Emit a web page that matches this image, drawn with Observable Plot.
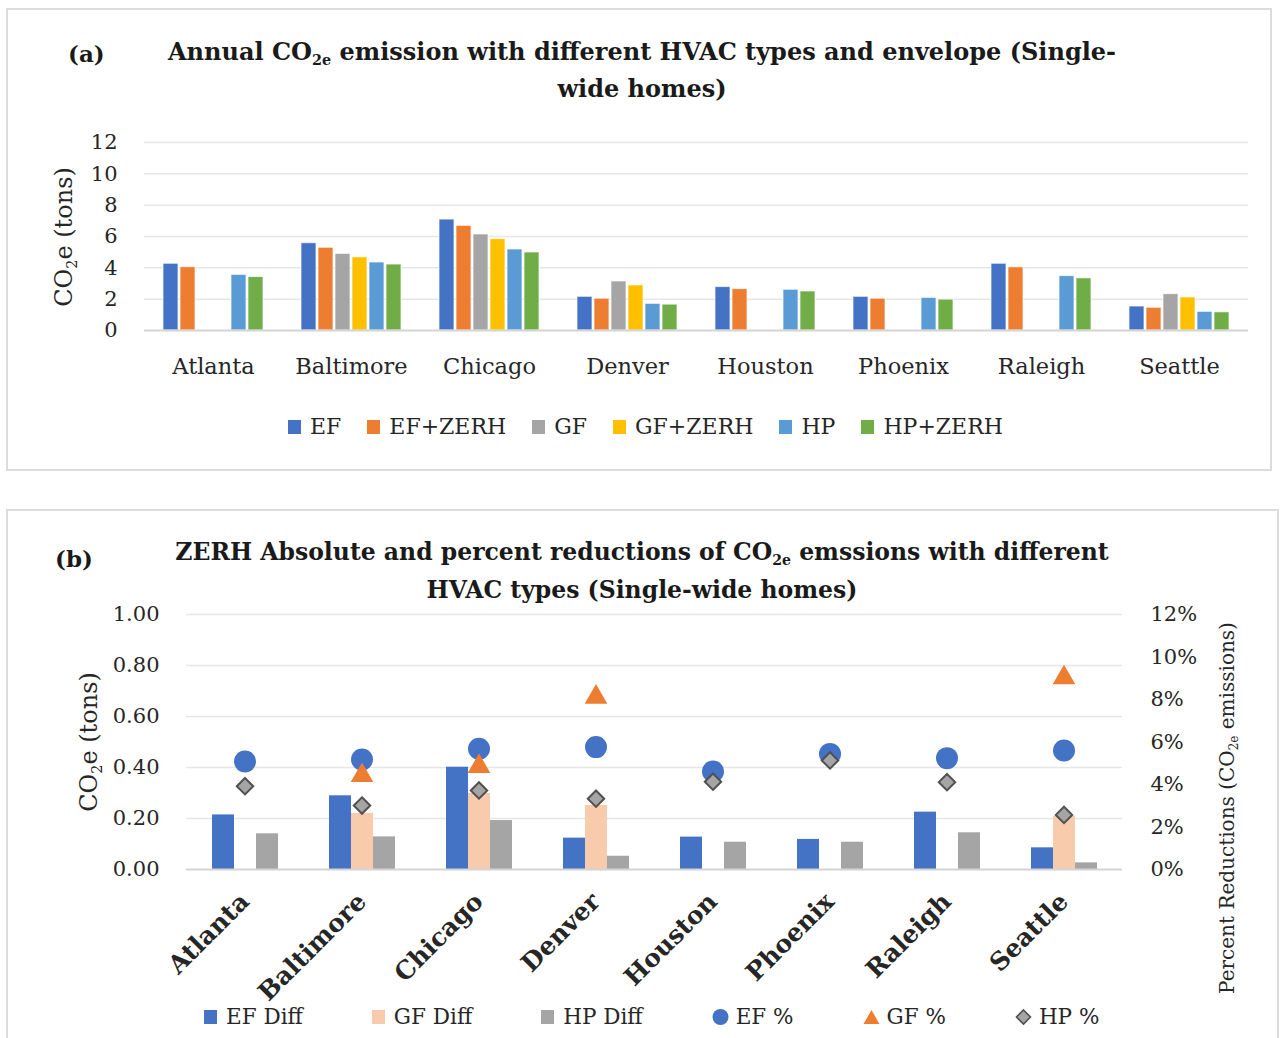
<!DOCTYPE html>
<html>
<head>
<meta charset="utf-8">
<script src="https://cdn.jsdelivr.net/npm/d3@7"></script>
<script src="https://cdn.jsdelivr.net/npm/@observablehq/plot@0.6"></script>
<style>
  html, body { margin: 0; padding: 0; background: #fff; }
  #root { position: relative; width: 1280px; height: 1038px; overflow: hidden; font-family: "DejaVu Serif", serif; color: #262626; }
  .box { position: absolute; border: 2px solid #DCDCDC; box-sizing: border-box; }
  .title { position: absolute; left: 92px; width: 1100px; text-align: center; font-weight: bold; font-size: 24px; letter-spacing: 0px; color: #1a1a1a; }
  .tag { position: absolute; font-weight: bold; font-size: 23px; color: #1a1a1a; transform: translateY(-50%); }
  .rot { position: absolute; white-space: nowrap; transform: translate(-50%, -50%) rotate(-90deg); }
  .legend { position: absolute; display: flex; align-items: center; font-size: 22px; white-space: nowrap; }
  .legend .item { display: flex; align-items: center; }
  .legend .sw { display: inline-block; width: 13px; height: 14px; margin-right: 9px; }
  sub { font-size: 0.6em; vertical-align: -0.35em; line-height: 0; }
  .plot { position: absolute; left: 0; }
</style>
</head>
<body>
<div id="root"></div>
<script>
// ---------- data ----------
const cities = ["Atlanta", "Baltimore", "Chicago", "Denver", "Houston", "Phoenix", "Raleigh", "Seattle"];
const hvacTypes = ["EF", "EF+ZERH", "GF", "GF+ZERH", "HP", "HP+ZERH"];
const hvacColors = ["#4472C4", "#ED7D31", "#A5A5A5", "#FFC000", "#5B9BD5", "#70AD47"];
const ef      = [4.26, 5.57, 7.08, 2.15, 2.77, 2.15, 4.26, 1.53];
const efZerh  = [4.04, 5.28, 6.68, 2.03, 2.64, 2.03, 4.03, 1.45];
const gf      = [null, 4.89, 6.13, 3.13, null, null, null, 2.32];
const gfZerh  = [null, 4.67, 5.83, 2.88, null, null, null, 2.11];
const hp      = [3.55, 4.34, 5.17, 1.70, 2.60, 2.08, 3.47, 1.19];
const hpZerh  = [3.41, 4.21, 4.98, 1.65, 2.49, 1.97, 3.33, 1.16];
const ticksA  = [0, 2, 4, 6, 8, 10, 12];

const diffTypes = ["EF Diff", "GF Diff", "HP Diff"];
const diffColors = ["#4472C4", "#F8CBAD", "#A5A5A5"];
const efDiff  = [0.214, 0.289, 0.401, 0.123, 0.127, 0.118, 0.225, 0.085];
const gfDiff  = [null, 0.220, 0.298, 0.251, null, null, null, 0.209];
const hpDiff  = [0.140, 0.128, 0.192, 0.052, 0.107, 0.107, 0.144, 0.026];
const efPct   = [5.08, 5.18, 5.68, 5.76, 4.61, 5.44, 5.24, 5.60];
const gfPct   = [null, 4.42, 4.85, 8.11, null, null, null, 9.02];
const hpPct   = [3.92, 3.01, 3.72, 3.33, 4.13, 5.13, 4.11, 2.57];
const ticksB  = [0, 0.2, 0.4, 0.6, 0.8, 1.0];
const ticksPct = [0, 2, 4, 6, 8, 10, 12];

// ---------- tables ----------
const seriesA = [ef, efZerh, gf, gfZerh, hp, hpZerh];
const tableA = cities.flatMap((c, i) => hvacTypes.map((t, j) => ({city: c, type: t, value: seriesA[j][i]})))
  .filter(d => d.value != null);
const seriesB = [efDiff, gfDiff, hpDiff];
const tableB = cities.flatMap((c, i) => diffTypes.map((t, j) => ({city: c, type: t, value: seriesB[j][i]})))
  .filter(d => d.value != null);
const pctTable = (arr, name) => cities.map((c, i) => ({city: c, name, value: arr[i]})).filter(d => d.value != null);

const root = document.getElementById("root");
function add(html) { root.insertAdjacentHTML("beforeend", html); }

// boxes
add(`<div class="box" style="left:6px;top:8px;width:1266px;height:463px"></div>`);
add(`<div class="box" style="left:6px;top:509px;width:1273px;height:560px"></div>`);

// titles
add(`<div class="tag" style="left:68px;top:53px">(a)</div>`);
add(`<div class="title" style="top:33px;line-height:37px">Annual CO<sub>2e</sub> emission with different HVAC types and envelope (Single-<br>wide homes)</div>`);
add(`<div class="tag" style="left:55px;top:558px">(b)</div>`);
add(`<div class="title" style="top:533px;line-height:38px;font-size:23.5px">ZERH Absolute and percent reductions of CO<sub>2e</sub> emssions with different<br>HVAC types (Single-wide homes)</div>`);

// axis titles
add(`<div class="rot" style="left:64px;top:237px;font-size:24px">CO<sub>2</sub>e (tons)</div>`);
add(`<div class="rot" style="left:89px;top:742px;font-size:24px">CO<sub>2</sub>e (tons)</div>`);
add(`<div class="rot" style="left:1227px;top:808px;font-size:20px">Percent Reductions (CO<sub>2e</sub> emissions)</div>`);

const baseStyle = {fontFamily: "DejaVu Serif", fontSize: "21px", color: "#262626", background: "transparent", overflow: "visible"};

// ---------- panel (a) ----------
const plotA = Plot.plot({
  width: 1280, height: 270,
  marginLeft: 142, marginRight: 31, marginTop: 22, marginBottom: 60,
  style: baseStyle,
  fx: {domain: cities, padding: 0, label: null},
  x: {domain: hvacTypes, paddingInner: 0.14, paddingOuter: 0.915, axis: null},
  y: {domain: [0, 12], axis: null},
  color: {domain: hvacTypes, range: hvacColors},
  marks: [
    Plot.ruleY(ticksA.filter(d => d > 0), {stroke: "#E6E6E6", strokeWidth: 1.5}),
    Plot.barY(tableA, {fx: "city", x: "type", y: "value", fill: "type", stroke: "white", strokeOpacity: 0.7, strokeWidth: 1}),
    Plot.ruleY([0], {stroke: "#D4D4D4", strokeWidth: 2}),
    Plot.axisY({ticks: ticksA, tickSize: 0, tickPadding: 27, label: null, tickFormat: d => d}),
    Plot.axisFx({anchor: "bottom", tickSize: 0, tickPadding: 28, label: null, fontSize: 22.5})
  ]
});
plotA.classList.add("plot");
plotA.style.top = "120px";
root.appendChild(plotA);

// legend (a)
add(`<div class="legend" style="left:288px;top:414px;gap:26px">` +
  hvacTypes.map((t, i) => `<span class="item"><span class="sw" style="background:${hvacColors[i]}"></span>${t}</span>`).join("") +
  `</div>`);

// ---------- panel (b) ----------
const commonB = {
  width: 1280, height: 410,
  marginLeft: 184, marginRight: 157, marginTop: 14, marginBottom: 141,
  style: baseStyle,
  fx: {domain: cities, padding: 0, label: null, axis: null}
};
const plotB = Plot.plot({
  ...commonB,
  x: {domain: diffTypes, paddingInner: 0, paddingOuter: 1.1, axis: null},
  y: {domain: [0, 1], axis: null},
  color: {domain: diffTypes, range: diffColors},
  marks: [
    Plot.ruleY(ticksB.filter(d => d > 0), {stroke: "#E6E6E6", strokeWidth: 1.5}),
    Plot.barY(tableB, {fx: "city", x: "type", y: "value", fill: "type"}),
    Plot.ruleY([0], {stroke: "#D4D4D4", strokeWidth: 2}),
    Plot.axisY({ticks: ticksB, tickSize: 0, tickPadding: 27, label: null, tickFormat: d => d.toFixed(2)}),
    Plot.axisFx({anchor: "bottom", tickSize: 0, tickPadding: 28, tickRotate: -45, label: null, fontSize: 25, fontWeight: "bold"})
  ]
});
plotB.classList.add("plot");
plotB.style.top = "600px";
root.appendChild(plotB);

const plotB2 = Plot.plot({
  ...commonB,
  y: {domain: [0, 12], axis: null},
  marks: [
    Plot.dot(pctTable(efPct, "EF %"), {fx: "city", y: "value", symbol: "circle", r: 11, fill: "#4472C4"}),
    Plot.dot(pctTable(gfPct, "GF %"), {fx: "city", y: "value", symbol: "triangle", r: 8.4, fill: "#ED7D31"}),
    Plot.dot(pctTable(hpPct, "HP %"), {fx: "city", y: "value", symbol: "diamond2", r: 7.4, fill: "#A5A5A5", stroke: "#505050", strokeWidth: 2}),
    Plot.axisY({anchor: "right", ticks: ticksPct, tickSize: 0, tickPadding: 28, label: null, tickFormat: d => d + "%"})
  ]
});
plotB2.classList.add("plot");
plotB2.style.top = "600px";
root.appendChild(plotB2);

// legend (b)
const markerSvg = {
  "EF %": `<svg width="17" height="18"><circle cx="8.5" cy="9" r="8" fill="#4472C4"/></svg>`,
  "GF %": `<svg width="17" height="18"><path d="M8.5,2 L16.5,16 L0.5,16 Z" fill="#ED7D31"/></svg>`,
  "HP %": `<svg width="17" height="18"><path d="M8.5,2 L15.5,9 L8.5,16 L1.5,9 Z" fill="#A5A5A5" stroke="#505050" stroke-width="1.6"/></svg>`
};
const legB = [
  ...diffTypes.map((t, i) => ({label: t, sw: `<span class="sw" style="background:${diffColors[i]}"></span>`})),
  ...["EF %", "GF %", "HP %"].map(t => ({label: t, sw: `<span style="margin-right:7px;display:inline-flex">${markerSvg[t]}</span>`}))
];
add(`<div class="legend" style="left:204px;top:1004px;gap:69px;font-size:21.5px">` +
  legB.map(d => `<span class="item">${d.sw}${d.label}</span>`).join("") + `</div>`);
</script>
</body>
</html>
